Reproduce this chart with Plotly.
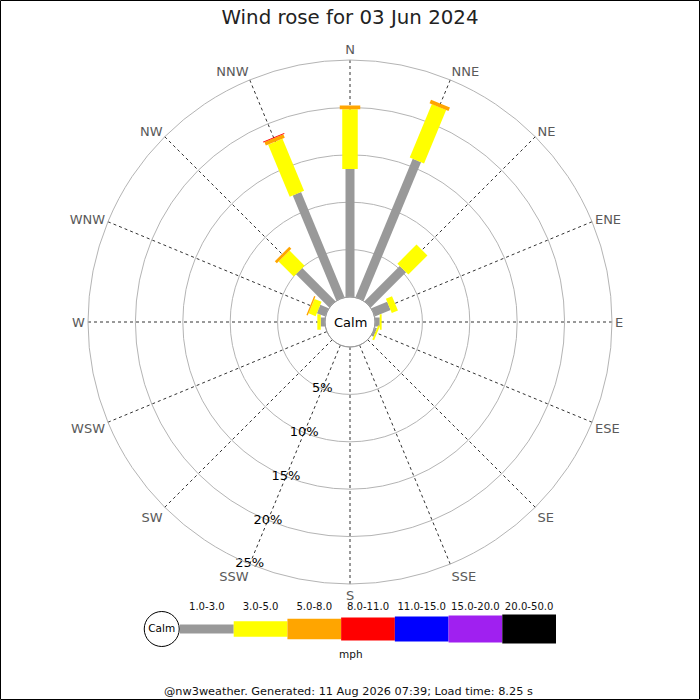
import numpy as np
import plotly.graph_objects as go

# ---------------- data ----------------
directions = ["N", "NNE", "NE", "ENE", "E", "ESE", "SE", "SSE",
              "S", "SSW", "SW", "WSW", "W", "WNW", "NW", "NNW"]
speed_classes = ["1.0-3.0", "3.0-5.0", "5.0-8.0", "8.0-11.0",
                 "11.0-15.0", "15.0-20.0", "20.0-50.0"]
class_colors = ["#999999", "#ffff00", "#ffa500", "#ff0000",
                "#0000ff", "#a020f0", "#000000"]
# percentage frequency per direction for each speed class
pct_1_3 =   [13.5, 15.8, 5.25, 1.8, 0.5, 0.25, 0, 0, 0, 0, 0, 0, 0.45, 0.95, 4.95, 12.0]
pct_3_5 =   [6.3, 6.1, 2.85, 0.7, 0.2, 0.2, 0, 0, 0, 0, 0, 0, 0.36, 0.8, 2.25, 5.95]
pct_5_8 =   [0.4, 0.4, 0, 0, 0, 0, 0, 0, 0, 0, 0, 0, 0, 0.15, 0.3, 0.4]
pct_8_11 =  [0, 0, 0, 0, 0, 0, 0, 0, 0, 0, 0, 0, 0, 0, 0, 0.1]
pct_11_15 = [0] * 16
pct_15_20 = [0] * 16
pct_20_50 = [0] * 16
radial_ticks = [5, 10, 15, 20, 25]
radial_labels = ["5%", "10%", "15%", "20%", "25%"]
title = "Wind rose for 03 Jun 2024"
footer = "@nw3weather. Generated: 11 Aug 2026 07:39; Load time: 8.25 s"

series = [pct_1_3, pct_3_5, pct_5_8, pct_8_11, pct_11_15, pct_15_20, pct_20_50]

# ---------------- style ----------------
W = H = 700
FONT = "DejaVu Sans"
class_widths = [9, 15.5, 20.5, 23, 25, 27, 29]   # px thickness
cx, cy, R = 350, 322, 262                        # polar centre/radius (px)
calm_r = 25
dir_deg = np.arange(len(directions)) * 360.0 / len(directions)

fig = go.Figure()

# bars as thick radial segments (constant pixel width)
for i, d in enumerate(dir_deg):
    base = 0.0
    for k, vals in enumerate(series):
        v = vals[i]
        if v <= 0:
            continue
        fig.add_trace(go.Scatterpolar(
            r=[base, base + v], theta=[d, d], mode="lines",
            line=dict(color=class_colors[k], width=class_widths[k]),
            hoverinfo="skip", showlegend=False, subplot="polar"))
        base += v

# radial percentage labels along SSW
fig.add_trace(go.Scatterpolar(
    r=radial_ticks, theta=[dir_deg[directions.index("SSW")]] * len(radial_ticks),
    mode="text", text=radial_labels, textposition="middle center",
    textfont=dict(family=FONT, size=13, color="#000"),
    cliponaxis=False, hoverinfo="skip", showlegend=False, subplot="polar"))

# legend key (cartesian)
idx = list(range(len(speed_classes)))
fig.add_trace(go.Bar(
    x=idx, y=class_widths, base=[-w / 2 for w in class_widths], width=1,
    marker=dict(color=class_colors, line=dict(width=0)),
    hoverinfo="skip", showlegend=False, xaxis="x", yaxis="y"))
fig.add_trace(go.Scatter(
    x=idx, y=[22] * len(idx), mode="text", text=speed_classes,
    textfont=dict(family=FONT, size=10.1, color="#111"),
    cliponaxis=False, hoverinfo="skip", showlegend=False, xaxis="x", yaxis="y"))
fig.add_trace(go.Scatter(
    x=[-0.84], y=[0], mode="markers+text", text=["Calm"],
    textposition="middle center",
    marker=dict(size=35, color="white", line=dict(color="#000", width=1)),
    textfont=dict(family=FONT, size=10.5, color="#000"),
    cliponaxis=False, hoverinfo="skip", showlegend=False, xaxis="x", yaxis="y"))

fig.update_layout(
    width=W, height=H, margin=dict(l=0, r=0, t=0, b=0),
    paper_bgcolor="white", plot_bgcolor="white",
    font=dict(family=FONT),
    title=dict(text=title, x=0.5, xanchor="center", y=1 - 17 / H, yanchor="middle",
               font=dict(family=FONT, size=19.8, color="#222")),
    polar=dict(
        domain=dict(x=[(cx - R) / W, (cx + R) / W],
                    y=[(H - cy - R) / H, (H - cy + R) / H]),
        hole=calm_r / R,
        bgcolor="white",
        radialaxis=dict(range=[0, 25], tickvals=radial_ticks, showticklabels=False,
                        ticks="", showline=False, gridcolor="#b4b4b4", gridwidth=1),
        angularaxis=dict(rotation=90, direction="clockwise", thetaunit="degrees",
                         tickmode="array", tickvals=list(dir_deg), ticktext=directions,
                         ticks="", showline=True, linecolor="#b4b4b4", linewidth=1,
                         gridcolor="#333", griddash="dot", gridwidth=1,
                         tickfont=dict(family=FONT, size=13, color="#5a5a5a")),
    ),
    xaxis=dict(domain=[142.4 / W, 556 / W], range=[-1.2, 6.5], visible=False,
               fixedrange=True),
    yaxis=dict(domain=[(H - 659) / H, (H - 599) / H], range=[-30, 30], visible=False,
               fixedrange=True),
    shapes=[
        dict(type="circle", xref="paper", yref="paper",
             x0=(cx - calm_r) / W, x1=(cx + calm_r) / W,
             y0=(H - cy - calm_r) / H, y1=(H - cy + calm_r) / H,
             line=dict(color="#999", width=1), layer="above"),
        dict(type="rect", xref="paper", yref="paper",
             x0=0.5 / W, x1=1 - 0.5 / W, y0=0.5 / H, y1=1 - 0.5 / H,
             line=dict(color="#000", width=1)),
    ],
    annotations=[
        dict(text="Calm", x=cx / W, y=(H - cy) / H, xref="paper", yref="paper",
             xanchor="center", yanchor="middle",
             showarrow=False, font=dict(family=FONT, size=13, color="#000")),
        dict(text="mph", x=351 / W, y=(H - 654) / H, xref="paper", yref="paper",
             xanchor="center", yanchor="middle",
             showarrow=False, font=dict(family=FONT, size=10.5, color="#111")),
        dict(text=footer, x=348 / W, y=(H - 691) / H, xref="paper", yref="paper",
             xanchor="center", yanchor="middle",
             showarrow=False, font=dict(family=FONT, size=11.3, color="#111")),
    ],
)

fig.write_html("out.html",
               config={"displayModeBar": False},
               post_script="document.body.style.margin='0';"
                           "document.body.style.overflow='hidden';")
